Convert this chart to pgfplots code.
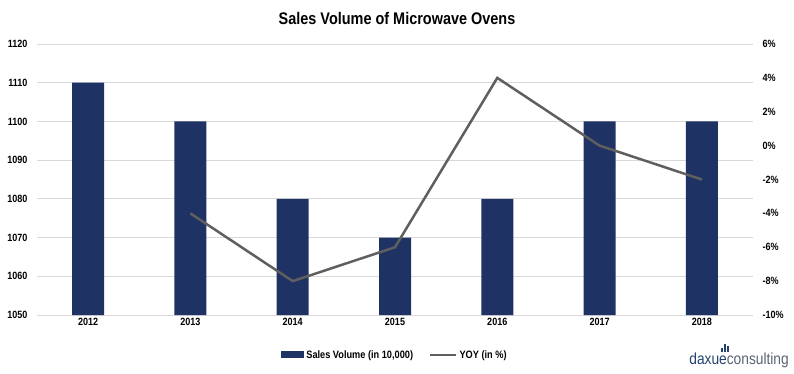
\documentclass[border=0pt]{standalone}
\usepackage{fontspec}
\setmainfont{Liberation Sans}[FakeStretch=0.86]
\usepackage{pgfplots}
\pgfplotsset{compat=1.18}
\definecolor{navy}{RGB}{30,50,100}
\definecolor{linegray}{RGB}{95,95,95}
\definecolor{gridgray}{RGB}{217,217,217}
\definecolor{logoblue}{RGB}{36,66,110}
\definecolor{logogray}{RGB}{90,100,115}
\begin{document}
\begin{tikzpicture}[x=1pt,y=1pt]
\path (0,0) rectangle (794,373);
\node[font=\bfseries\fontsize{16.8}{20}\selectfont] at (397,355) {Sales Volume of Microwave Ovens};
\begin{axis}[
  at={(37pt,58pt)}, anchor=south west,
  width=716pt, height=271pt, scale only axis,
  xmin=-0.5, xmax=6.5,
  ymin=1050, ymax=1120, ytick distance=10,
  xtick={0,...,6},
  xticklabels={2012,2013,2014,2015,2016,2017,2018},
  axis line style={draw=none},
  major tick style={draw=none},
  ymajorgrids, grid style={gridgray, line width=0.8pt},
  tick label style={font=\bfseries\fontsize{10.5}{12}\selectfont},
  /pgf/number format/assume math mode=true,
  /pgf/number format/1000 sep={},
  yticklabel style={anchor=east, xshift=-6pt},
  xticklabel style={yshift=0pt},
  legend style={at={(0.5,-0.115)}, anchor=north, draw=none, legend columns=2,
    font=\bfseries\fontsize{10.7}{12}\selectfont, /tikz/every even column/.append style={column sep=14pt}},
  clip=false,
]
\addplot[ybar, bar width=32pt, fill=navy, draw=none,
  legend image code/.code={\fill[navy] (0pt,-3.5pt) rectangle (23pt,3.5pt);}]
  coordinates {(0,1110) (1,1100) (2,1080) (3,1070) (4,1080) (5,1100) (6,1100)};
\addlegendentry{Sales Volume (in 10,000)}
\addlegendimage{linegray, line width=2.5pt, legend image code/.code={\draw[linegray, line width=2.5pt] (0pt,0pt) -- (26pt,0pt);}}
\addlegendentry{YOY (in \%)}
\end{axis}
\begin{axis}[
  at={(37pt,58pt)}, anchor=south west,
  width=716pt, height=271pt, scale only axis,
  xmin=-0.5, xmax=6.5,
  ymin=-10, ymax=6, ytick distance=2,
  axis y line*=right, axis x line=none,
  axis line style={draw=none},
  major tick style={draw=none},
  tick label style={font=\bfseries\fontsize{10.5}{12}\selectfont},
  /pgf/number format/assume math mode=true,
  yticklabel={\pgfmathprintnumber{\tick}\%},
  yticklabel style={anchor=west, xshift=6pt},
]
\addplot[linegray, line width=2.5pt, mark=none]
  coordinates {(1,-4) (2,-8) (3,-6) (4,4) (5,0) (6,-2)};
\end{axis}
\node[anchor=east, inner sep=0pt, font=\fontsize{16}{18}\selectfont] at (789,13)
  {\textcolor{logoblue}{daxue}\textcolor{logogray}{consulting}};
\fill[logoblue] (721,21) rectangle (722.6,25);
\fill[logoblue] (724,21) rectangle (725.6,29);
\fill[logoblue] (727,21) rectangle (728.6,27);
\end{tikzpicture}
\end{document}
